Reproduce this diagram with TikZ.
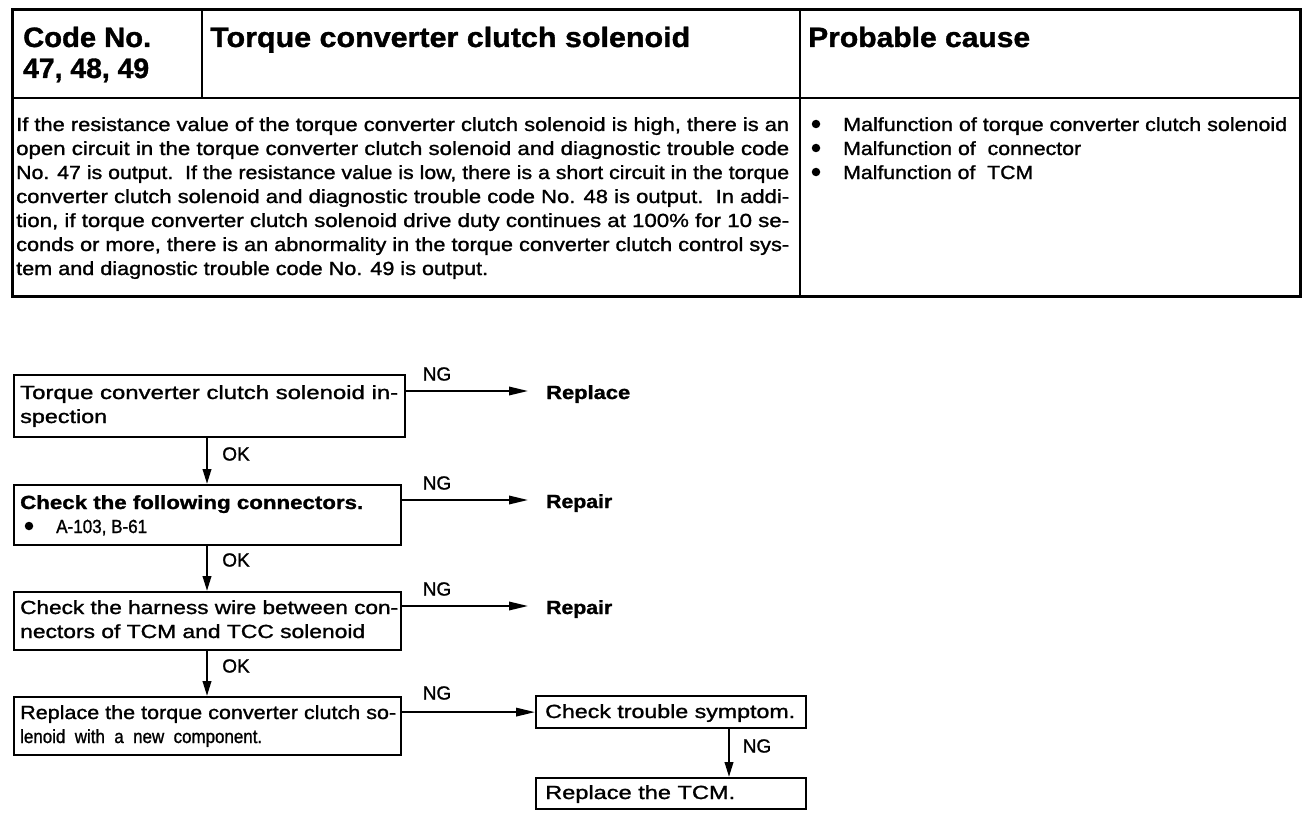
\documentclass[tikz,border=0pt]{standalone}
\usepackage{fontspec}
\setmainfont{Liberation Sans}[FakeBold=1.2]
\usepackage{graphicx}
\usetikzlibrary{arrows.meta}
\newcommand\fw[2]{\resizebox{#1pt}{\height}{#2}}
\newcommand\bodyf{\fontsize{19}{24}\selectfont}
\newcommand\hdrf{\fontsize{28}{30}\selectfont\bfseries}
\begin{document}
\begin{tikzpicture}[x=1pt,y=-1pt,
  outerl/.style={line width=3pt},
  innerl/.style={line width=2pt},
  box/.style={draw, line width=2.2pt, rectangle, inner sep=0pt, anchor=north west},
  txt/.style={anchor=base west, inner sep=0pt, font=\bodyf},
  hdr/.style={anchor=base west, inner sep=0pt, font=\hdrf},
  lab/.style={anchor=center, inner sep=0pt, font=\bodyf},
  dot/.style={circle, fill, inner sep=0pt, minimum size=8.5pt},
  arrh/.style={line width=1.8pt, -{Triangle[length=19pt,width=8.5pt]}},
  arrv/.style={line width=2.2pt, -{Triangle[length=15pt,width=8.5pt]}}]
\useasboundingbox (0,0) rectangle (1312,840);
\fill[white] (0,0) rectangle (1312,840);

% ---------- table ----------
\draw[outerl] (12,10) rectangle (1300,296);
\draw[innerl] (12,98) -- (1300,98);
\draw[innerl] (202,10) -- (202,98);
\draw[innerl] (800,10) -- (800,296);

\node[hdr] (code1) at (23,47) {\fw{128}{Code No.}};
\node[hdr] (code2) at (23,78) {\fw{126}{47, 48, 49}};
\node[hdr] (title) at (210,47) {\fw{480}{Torque converter clutch solenoid}};
\node[hdr] (cause) at (808,47) {\fw{222}{Probable cause}};

\node[txt] (d1) at (16,131) {\fw{773}{If the resistance value of the torque converter clutch solenoid is high, there is an}};
\node[txt] (d2) at (16,155) {\fw{773}{open circuit in the torque converter clutch solenoid and diagnostic trouble code}};
\node[txt] (d3) at (16,179) {\fw{773}{No. 47 is output.\ \ If the resistance value is low, there is a short circuit in the torque}};
\node[txt] (d4) at (16,203) {\fw{773}{converter clutch solenoid and diagnostic trouble code No. 48 is output.\ \ In addi-}};
\node[txt] (d5) at (16,227) {\fw{773}{tion, if torque converter clutch solenoid drive duty continues at 100\% for 10 se-}};
\node[txt] (d6) at (16,251) {\fw{773}{conds or more, there is an abnormality in the torque converter clutch control sys-}};
\node[txt] (d7) at (16,275) {\fw{472}{tem and diagnostic trouble code No. 49 is output.}};

\node[dot] (pb1) at (816,124) {};
\node[dot] (pb2) at (816,148) {};
\node[dot] (pb3) at (816,172) {};
\node[txt] (p1) at (843,131) {\fw{444}{Malfunction of torque converter clutch solenoid}};
\node[txt] (p2) at (843,155) {\fw{238}{Malfunction of\ \ connector}};
\node[txt] (p3) at (843,179) {\fw{190}{Malfunction of\ \ TCM}};

% ---------- flow chart ----------
\node[box, minimum width=391pt, minimum height=62pt] (b1) at (13,374) {};
\node[box, minimum width=387pt, minimum height=60pt] (b2) at (13,484) {};
\node[box, minimum width=387pt, minimum height=58pt] (b3) at (13,591) {};
\node[box, minimum width=387pt, minimum height=58pt] (b4) at (13,696) {};
\node[box, minimum width=270pt, minimum height=32pt] (b5) at (535,695) {};
\node[box, minimum width=270pt, minimum height=31pt] (b6) at (535,777) {};

\node[txt] (t1a) at (20,399) {\fw{378}{Torque converter clutch solenoid in-}};
\node[txt] (t1b) at (20,423) {\fw{87}{spection}};
\node[txt] (t2a) at (20,509) {\fw{343}{\bfseries Check the following connectors.}};
\node[dot] (t2bul) at (29,526) {};
\node[txt] (t2b) at (56,533) {\fw{91}{A-103, B-61}};
\node[txt] (t3a) at (20,614) {\fw{378}{Check the harness wire between con-}};
\node[txt] (t3b) at (20,638) {\fw{345}{nectors of TCM and TCC solenoid}};
\node[txt] (t4a) at (20,719) {\fw{376}{Replace the torque converter clutch so-}};
\node[txt] (t4b) at (20,743) {\fw{242}{lenoid\ \ with\ \ a\ \ new\ \ component.}};
\node[txt] (t5) at (545,718) {\fw{250}{Check trouble symptom.}};
\node[txt] (t6) at (545,799) {\fw{190}{Replace the TCM.}};

% arrow end points
\coordinate (e1) at (528,391);
\coordinate (e2) at (528,500);
\coordinate (e3) at (528,606);
\coordinate (ax) at (207,0);
\coordinate (bx) at (729,0);

\draw[arrh] (b1.east |- e1) -- (e1);
\draw[arrh] (b2.east |- e2) -- (e2);
\draw[arrh] (b3.east |- e3) -- (e3);
\draw[arrh] (b4.east |- b5.west) -- (b5.west);

\node[txt] (r1) at (546,399) {\fw{84}{\bfseries Replace}};
\node[txt] (r2) at (546,508) {\fw{66}{\bfseries Repair}};
\node[txt] (r3) at (546,614) {\fw{66}{\bfseries Repair}};

\node[lab] (ng1) at (437,374) {NG};
\node[lab] (ng2) at (437,483) {NG};
\node[lab] (ng3) at (437,589) {NG};
\node[lab] (ng4) at (437,693) {NG};
\node[lab] (ng5) at (757,746) {NG};

\draw[arrv] (b1.south -| ax) -- (b2.north -| ax);
\draw[arrv] (b2.south -| ax) -- (b3.north -| ax);
\draw[arrv] (b3.south -| ax) -- (b4.north -| ax);
\draw[arrv] (b5.south -| bx) -- (b6.north -| bx);

\node[lab] (ok1) at (236,454) {OK};
\node[lab] (ok2) at (236,560) {OK};
\node[lab] (ok3) at (236,666) {OK};
\end{tikzpicture}
\end{document}
